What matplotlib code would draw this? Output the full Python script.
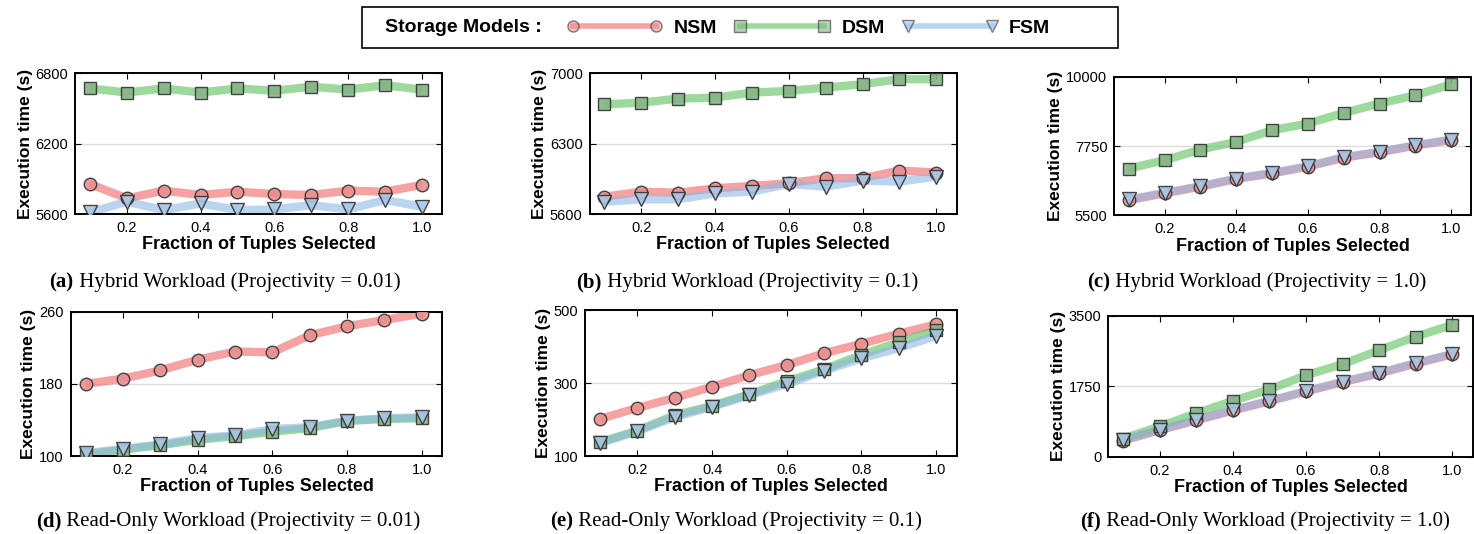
import numpy as np
import matplotlib
matplotlib.use('Agg')
import matplotlib.pyplot as plt
from matplotlib.lines import Line2D
from matplotlib.patches import Rectangle

# fraction of tuples selected
fractions = [0.1, 0.2, 0.3, 0.4, 0.5, 0.6, 0.7, 0.8, 0.9, 1.0]

# (a) hybrid, projectivity 0.01
hyb001_nsm = [5857, 5734, 5800, 5763, 5791, 5771, 5763, 5800, 5791, 5849]
hyb001_dsm = [6670, 6635, 6670, 6635, 6670, 6650, 6685, 6660, 6697, 6660]
hyb001_fsm = [5615, 5706, 5634, 5691, 5634, 5640, 5677, 5640, 5720, 5663]

# (b) hybrid, projectivity 0.1
hyb01_nsm = [5773, 5823, 5813, 5857, 5880, 5907, 5957, 5957, 6033, 6013]
hyb01_dsm = [6690, 6707, 6747, 6757, 6807, 6823, 6857, 6890, 6940, 6940]
hyb01_fsm = [5723, 5747, 5747, 5807, 5823, 5900, 5873, 5933, 5923, 5973]

# (c) hybrid, projectivity 1.0
hyb1_nsm = [5990, 6210, 6430, 6680, 6860, 7080, 7370, 7550, 7765, 7950]
hyb1_dsm = [7019, 7289, 7637, 7886, 8265, 8482, 8829, 9133, 9404, 9761]
hyb1_fsm = [6011, 6228, 6444, 6694, 6878, 7095, 7398, 7561, 7778, 7962]

# (d) read-only, projectivity 0.01
ro001_nsm = [180, 186, 195, 207, 216, 215, 234, 244, 251, 258]
ro001_dsm = [102, 107, 112, 118, 122, 127, 131, 139, 141, 142]
ro001_fsm = [103, 108, 113, 120, 123, 130, 132, 139, 142, 143]

# (e) read-only, projectivity 0.1
ro01_nsm = [202, 232, 260, 290, 322, 350, 382, 408, 436, 461]
ro01_dsm = [138, 170, 212, 238, 270, 305, 338, 378, 412, 445]
ro01_fsm = [135, 168, 207, 235, 267, 297, 334, 368, 396, 430]

# (f) read-only, projectivity 1.0
ro1_nsm = [395, 655, 900, 1145, 1375, 1620, 1845, 2065, 2310, 2540]
ro1_dsm = [448, 749, 1074, 1384, 1669, 2019, 2295, 2640, 2979, 3270]
ro1_fsm = [407, 667, 912, 1156, 1384, 1628, 1856, 2076, 2320, 2550]

yticks = [[5600, 6200, 6800], [5600, 6300, 7000], [5500, 7750, 10000],
          [100, 180, 260], [100, 300, 500], [0, 1750, 3500]]

captions = [('(a)', ' Hybrid Workload (Projectivity = 0.01)'),
            ('(b)', ' Hybrid Workload (Projectivity = 0.1)'),
            ('(c)', ' Hybrid Workload (Projectivity = 1.0)'),
            ('(d)', ' Read-Only Workload (Projectivity = 0.01)'),
            ('(e)', ' Read-Only Workload (Projectivity = 0.1)'),
            ('(f)', ' Read-Only Workload (Projectivity = 1.0)')]

panels = [(hyb001_nsm, hyb001_dsm, hyb001_fsm), (hyb01_nsm, hyb01_dsm, hyb01_fsm),
          (hyb1_nsm, hyb1_dsm, hyb1_fsm), (ro001_nsm, ro001_dsm, ro001_fsm),
          (ro01_nsm, ro01_dsm, ro01_fsm), (ro1_nsm, ro1_dsm, ro1_fsm)]

W, H = 1474, 534

# axes rectangles in figure fractions
rects = [[0.051, 0.599, 0.249, 0.264], [0.400, 0.599, 0.249, 0.264],
         [0.756, 0.597, 0.242, 0.259], [0.048, 0.146, 0.252, 0.270],
         [0.397, 0.146, 0.252, 0.273], [0.752, 0.145, 0.247, 0.264]]
# caption centres, pixels
cap_pos = [(225, 282), (747, 282), (1257, 282), (228, 521), (736, 521), (1265, 521)]

styles = [dict(color='#f06464', marker='o', mfc='#e89090', ms=9, label='NSM'),
          dict(color='#5cbf5c', marker='s', mfc='#86b486', ms=8.5, label='DSM'),
          dict(color='#8fb8e6', marker='v', mfc='#a9c7e6', ms=10, label='FSM')]

sans = ['Liberation Sans', 'DejaVu Sans']
serif = ['Liberation Serif', 'DejaVu Serif']

fig = plt.figure(figsize=(W / 100, H / 100), dpi=100)
r = fig.canvas.get_renderer()

for i in range(6):
    ax = fig.add_axes(rects[i])
    for series, st in zip(panels[i], styles):
        ax.plot(fractions, series, color=st['color'], lw=6, alpha=0.6,
                solid_capstyle='butt', zorder=2)
        ax.plot(fractions, series, linestyle='none', marker=st['marker'],
                mfc=st['mfc'], mec='#333333', mew=1.0, ms=st['ms'],
                alpha=0.9, zorder=3)
    ax.set_xlim(0.06, 1.055)
    ax.set_ylim(yticks[i][0], yticks[i][-1])
    ax.set_yticks(yticks[i])
    ax.set_xticks([0.2, 0.4, 0.6, 0.8, 1.0])
    ax.set_xticklabels(['0.2', '0.4', '0.6', '0.8', '1.0'])
    ax.tick_params(direction='in', top=True, right=True, length=4,
                   labelsize=10.5, width=0.8, pad=5)
    for lab in ax.get_xticklabels() + ax.get_yticklabels():
        lab.set_family(sans)
    ax.yaxis.grid(True, color='#dddddd', lw=1.0)
    for sp in ax.spines.values():
        sp.set_linewidth(1.4)
    ax.set_xlabel('Fraction of Tuples Selected', fontsize=13, fontweight='bold',
                  family=sans, labelpad=1)
    ax.set_ylabel('Execution time (s)', fontsize=12.5, fontweight='bold',
                  family=sans, labelpad=2)

    # caption: bold letter then regular text, centred together
    cx, cy = cap_pos[i]
    yf = 1 - cy / H
    tb = fig.text(0, yf, captions[i][0], fontsize=15, family=serif,
                  fontweight='bold', ha='left', va='center')
    tr = fig.text(0, yf, captions[i][1], fontsize=15, family=serif,
                  ha='left', va='center')
    wb = tb.get_window_extent(renderer=r).width
    wr = tr.get_window_extent(renderer=r).width
    x0 = cx - (wb + wr) / 2
    tb.set_x(x0 / W)
    tr.set_x((x0 + wb) / W)

# legend box with the "Storage Models :" label on the left
fig.patches.append(Rectangle((362 / W, 1 - 48 / H), 756 / W, 41 / H,
                             transform=fig.transFigure, fill=False,
                             edgecolor='black', lw=1.2))
fig.text(385 / W, 1 - 28 / H, 'Storage Models :', fontsize=14,
         fontweight='bold', family=sans, ha='left', va='center')
handles = []
for st in styles:
    handles.append(Line2D([0, 1], [0, 0], color=st['color'], lw=4, alpha=0.6,
                          marker=st['marker'], mfc=st['mfc'], mec='#333333',
                          ms=8, label=st['label']))
leg = fig.legend(handles=handles, loc='center left',
                 bbox_to_anchor=(555 / W, 1 - 28 / H),
                 ncol=3, frameon=False, handlelength=4.3, columnspacing=1.2,
                 handletextpad=0.9,
                 prop=dict(family=sans, weight='bold', size=14))
for h in leg.legend_handles:
    h.set_markevery([0, -1])

fig.savefig('out.png', dpi=100)
